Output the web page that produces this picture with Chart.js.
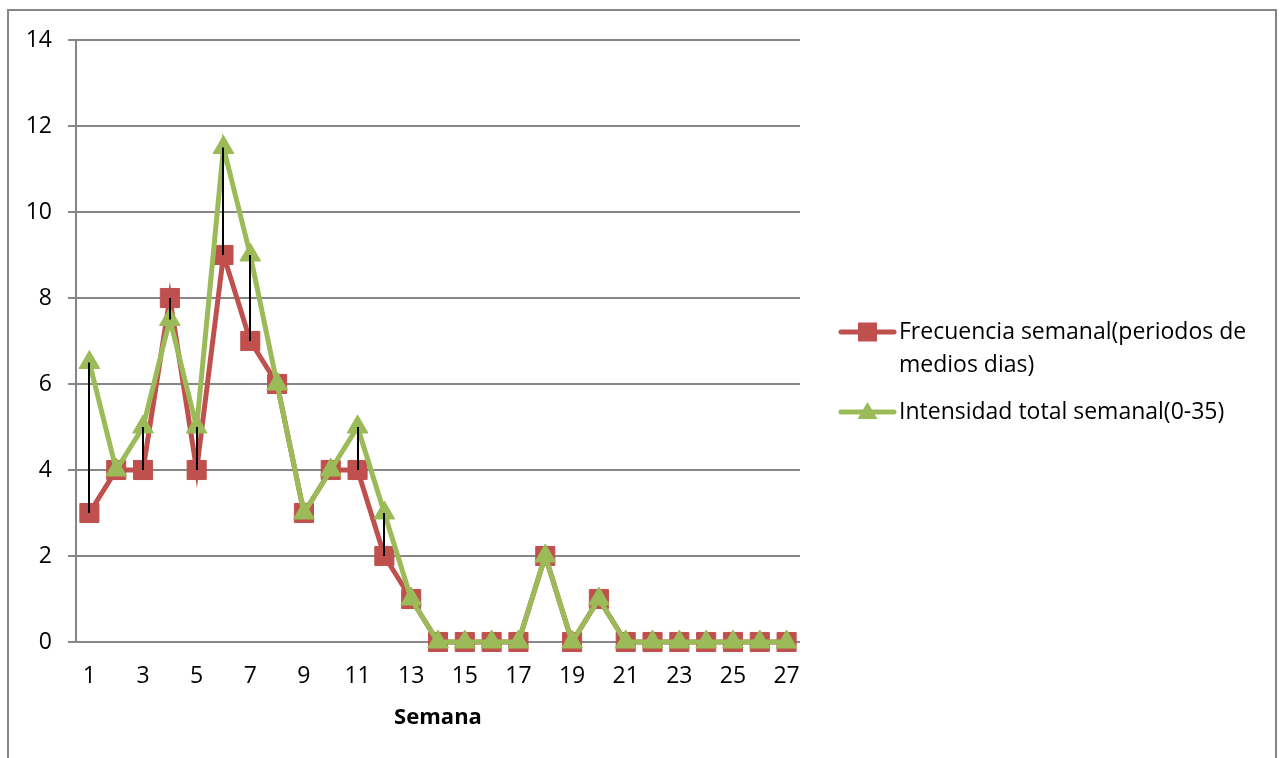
<!DOCTYPE html>
<html>
<head>
<meta charset="utf-8">
<script src="https://cdn.jsdelivr.net/npm/chart.js@4.4.1/dist/chart.umd.min.js"></script>
<style>
  html, body { margin: 0; padding: 0; background: #fff; }
  #wrap { width: 1282px; height: 758px; position: relative; }
</style>
</head>
<body>
<div id="wrap"><canvas id="c" width="1282" height="758"></canvas></div>
<script>
// Weekly data
const semanas = ['1','2','3','4','5','6','7','8','9','10','11','12','13','14','15','16','17','18','19','20','21','22','23','24','25','26','27'];
const frecuencia = [3,4,4,8,4,9,7,6,3,4,4,2,1,0,0,0,0,2,0,1,0,0,0,0,0,0,0];
const intensidad = [6.5,4,5,7.5,5,11.5,9,6,3,4,5,3,1,0,0,0,0,2,0,1,0,0,0,0,0,0,0];
const yTicks = [0,2,4,6,8,10,12,14];
const nombreFrecuencia = ['Frecuencia semanal(periodos de', 'medios dias)'];
const nombreIntensidad = ['Intensidad total semanal(0-35)'];
const tituloX = 'Semana';

const ROJO = '#C0504D';
const VERDE = '#9BBB59';
const GRIS = '#868686';
const FUENTE = '"Open Sans", "Noto Sans", sans-serif';
const TAM = 23;

// Outer frame of the chart
const marco = {
  id: 'marco',
  beforeDraw(chart) {
    const ctx = chart.ctx;
    ctx.save();
    ctx.fillStyle = '#fff';
    ctx.fillRect(0, 0, chart.width, chart.height);
    ctx.strokeStyle = GRIS;
    ctx.lineWidth = 2;
    ctx.strokeRect(8, 10, 1268, 800);
    ctx.restore();
  }
};

// Vertical high-low lines between the two series
const lineasAltoBajo = {
  id: 'lineasAltoBajo',
  afterDatasetsDraw(chart) {
    const ctx = chart.ctx;
    const xs = chart.scales.x, ys = chart.scales.y;
    ctx.save();
    ctx.strokeStyle = '#000';
    ctx.lineWidth = 2;
    for (let i = 0; i < semanas.length; i++) {
      const a = frecuencia[i], b = intensidad[i];
      if (a === b) continue;
      const x = Math.round(xs.getPixelForValue(i));
      ctx.beginPath();
      ctx.moveTo(x, ys.getPixelForValue(Math.max(a, b)));
      ctx.lineTo(x, ys.getPixelForValue(Math.min(a, b)));
      ctx.stroke();
    }
    ctx.restore();
  }
};

// Legend on the right, with wrapped labels
const leyenda = {
  id: 'leyenda',
  afterDraw(chart) {
    const ctx = chart.ctx;
    const items = [
      { lineas: nombreFrecuencia, color: ROJO, forma: 'rect', y: 332 },
      { lineas: nombreIntensidad, color: VERDE, forma: 'triangle', y: 412 }
    ];
    ctx.save();
    ctx.font = TAM + 'px ' + FUENTE;
    ctx.textBaseline = 'middle';
    ctx.textAlign = 'left';
    items.forEach(it => {
      ctx.strokeStyle = it.color;
      ctx.lineWidth = 5;
      ctx.lineCap = 'round';
      ctx.beginPath();
      ctx.moveTo(841, it.y);
      ctx.lineTo(894, it.y);
      ctx.stroke();
      ctx.fillStyle = it.color;
      ctx.beginPath();
      if (it.forma === 'rect') {
        ctx.rect(867.5 - 9.5, it.y - 9.5, 19, 19);
      } else {
        ctx.moveTo(867.5, it.y - 10);
        ctx.lineTo(867.5 + 10, it.y + 7);
        ctx.lineTo(867.5 - 10, it.y + 7);
        ctx.closePath();
      }
      ctx.fill();
      ctx.fillStyle = '#000';
      it.lineas.forEach((t, k) => ctx.fillText(t, 899, it.y + k * 33));
    });
    ctx.restore();
  }
};

new Chart(document.getElementById('c'), {
  type: 'line',
  data: {
    labels: semanas,
    datasets: [
      {
        label: nombreFrecuencia.join(' '),
        data: frecuencia,
        borderColor: ROJO,
        backgroundColor: ROJO,
        borderWidth: 5,
        pointStyle: 'rect',
        pointRadius: 13.5,
        pointBorderWidth: 1,
        pointBackgroundColor: ROJO,
        pointBorderColor: ROJO,
        tension: 0,
        clip: false,
        order: 1
      },
      {
        label: nombreIntensidad.join(' '),
        data: intensidad,
        borderColor: VERDE,
        backgroundColor: VERDE,
        borderWidth: 5,
        pointStyle: 'triangle',
        pointRadius: 12,
        pointBorderWidth: 1,
        pointBackgroundColor: VERDE,
        pointBorderColor: VERDE,
        tension: 0,
        clip: false,
        order: 0
      }
    ]
  },
  options: {
    responsive: false,
    animation: false,
    devicePixelRatio: 1,
    layout: { padding: { top: 40, right: 482, bottom: 0, left: 0 } },
    plugins: {
      legend: { display: false },
      tooltip: { enabled: false }
    },
    scales: {
      x: {
        type: 'category',
        offset: true,
        grid: { display: false, drawTicks: false },
        border: { display: false },
        ticks: {
          autoSkip: false,
          maxRotation: 0,
          padding: 21,
          color: '#000',
          font: { family: FUENTE, size: TAM },
          callback: (v, i) => (i % 2 === 0 ? semanas[i] : '')
        },
        title: {
          display: true,
          text: tituloX,
          color: '#000',
          font: { family: FUENTE, size: 22, weight: 'bold' },
          padding: { top: 0, bottom: 27 }
        },
        afterFit(scale) { scale.height = 116; }
      },
      y: {
        min: 0,
        max: 14,
        afterBuildTicks(scale) { scale.ticks = yTicks.map(v => ({ value: v })); },
        grid: { color: GRIS, lineWidth: 2, tickLength: 8, drawTicks: true },
        border: { display: true, color: GRIS, width: 2 },
        ticks: {
          padding: 16,
          color: '#000',
          font: { family: FUENTE, size: TAM }
        },
        afterFit(scale) { scale.width = 76; }
      }
    }
  },
  plugins: [marco, lineasAltoBajo, leyenda]
});
</script>
</body>
</html>
